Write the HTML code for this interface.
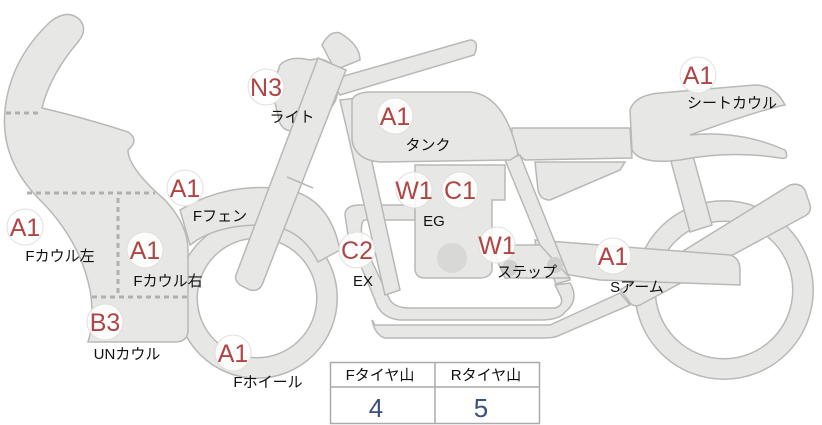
<!DOCTYPE html>
<html><head><meta charset="utf-8"><style>
html,body{margin:0;padding:0;background:#fff;}
svg{display:block;font-family:"Liberation Sans","Noto Sans CJK JP",sans-serif;}
.p{fill:#e7e7e5;stroke:#b8b8b6;stroke-width:1.5;}
.b circle{fill:#fff;fill-opacity:.85;stroke:#e2dede;stroke-width:1;}
.b text{fill:#b04545;font-size:25px;text-anchor:middle;}
.l{font-size:15px;fill:#111;text-anchor:middle;}
</style></head><body>
<svg width="822" height="425" viewBox="0 0 822 425">
<circle cx="724" cy="290" r="79" fill="none" stroke="#b8b8b6" stroke-width="22"/>
<circle cx="724" cy="290" r="79" fill="none" stroke="#e7e7e5" stroke-width="19"/>
<path class="p" d="M668,150 L690,145 L712,225 L690,232 Z"/>
<path class="p" d="M630,110 Q635,95 660,93 L755,85 Q775,85 785,105 Q760,110 690,135 Q740,130 785,150 Q790,160 780,158 Q730,150 680,160 Q640,165 632,150 Z"/>
<path class="p" d="M512,128 L630,128 L632,158 L525,160 Q510,150 512,128 Z"/>
<path class="p" d="M535,162 L625,162 L620,170 L550,200 Q540,200 538,190 Z"/>
<path class="p" d="M620,290 L790,185 Q800,182 805,190 L810,205 Q812,212 805,216 L640,305 Q632,308 628,300 Z"/>
<path class="p" d="M535,240 L600,245 L730,255 Q740,258 740,270 L740,285 L600,280 L540,270 Z"/>
<path class="p" d="M505,160 L520,155 L570,280 L556,284 Z"/>
<path class="p" d="M345,215 Q345,205 360,205 L415,205 L415,220 L365,220 Q360,220 362,240 L390,300 Q395,308 410,308 L555,308 Q565,305 560,295 L555,285 L570,283 Q580,300 565,312 Q560,320 540,320 L400,320 Q380,318 375,300 L348,235 Z"/>
<path class="p" d="M375,325 L550,325 L620,293 L630,305 L560,335 Q555,338 545,338 L385,338 Q375,335 372,320 Z"/>
<path class="p" d="M415,165 L505,165 L505,200 L492,200 L492,270 Q490,278 480,278 L425,278 Q415,278 415,268 Z"/>
<circle cx="452" cy="258" r="15" fill="#d8d8d6"/>
<path class="p" d="M490,245 L540,245 L570,278 L505,278 Z"/>
<circle cx="510" cy="268" r="8" fill="#cfcfcd"/>
<circle cx="555" cy="265" r="8" fill="#cfcfcd"/>
<path class="p" d="M340,100 L358,98 L400,290 L385,295 Z"/>
<path class="p" d="M352,100 Q355,92 372,92 L470,92 Q505,95 518,155 L510,160 L380,162 Q355,160 352,140 Z"/>
<circle cx="257" cy="298" r="70" fill="none" stroke="#b8b8b6" stroke-width="22"/>
<circle cx="257" cy="298" r="70" fill="none" stroke="#e7e7e5" stroke-width="19"/>
<path class="p" d="M180,210 Q230,180 290,190 Q330,200 340,250 L318,262 Q300,225 260,225 Q215,225 190,245 Z"/>
<path class="p" d="M330,80 L470,40 Q478,40 476,50 L474,55 L340,95 Z"/>
<path class="p" d="M280,65 Q290,55 310,60 Q330,55 338,75 Q340,100 330,108 L300,130 Q280,135 278,115 Q270,90 280,65 Z"/>
<path class="p" d="M322,45 Q330,30 340,33 Q360,45 360,60 L335,70 Z"/>
<path class="p" d="M318,58 L346,70 L262,285 Q258,292 250,290 L240,285 Q234,280 236,275 Z"/>
<line x1="287" y1="177" x2="313" y2="188" stroke="#b8b8b6" stroke-width="1.5"/>
<path class="p" d="M50,22 Q68,8 80,20 Q88,30 78,42 Q50,75 42,108 Q85,118 128,132 Q140,140 128,150 Q128,168 165,200 Q188,225 188,250 L188,330 Q188,342 175,342 L88,342 Q95,320 90,290 Q80,240 40,200 Q0,160 5,110 Q10,60 50,22 Z"/>
<g stroke="#b0b0ae" stroke-width="3" stroke-dasharray="5,4" fill="none">
<line x1="6" y1="113" x2="40" y2="113"/>
<line x1="27" y1="193" x2="155" y2="193"/>
<line x1="118" y1="198" x2="118" y2="294"/>
<line x1="92" y1="297" x2="188" y2="297"/>
</g>
<g class="b">
<circle cx="266" cy="87" r="18"/><text x="266" y="96">N3</text>
<circle cx="395" cy="116" r="18"/><text x="395" y="125">A1</text>
<circle cx="698" cy="75" r="18"/><text x="698" y="84">A1</text>
<circle cx="185" cy="188" r="18"/><text x="185" y="197">A1</text>
<circle cx="25" cy="227" r="18"/><text x="25" y="236">A1</text>
<circle cx="145" cy="250" r="18"/><text x="145" y="259">A1</text>
<circle cx="105" cy="322" r="18"/><text x="105" y="331">B3</text>
<circle cx="233" cy="353" r="18"/><text x="233" y="362">A1</text>
<circle cx="357" cy="250" r="18"/><text x="357" y="259">C2</text>
<circle cx="414" cy="190" r="18"/><text x="414" y="199">W1</text>
<circle cx="460" cy="190" r="18"/><text x="460" y="199">C1</text>
<circle cx="497" cy="245" r="18"/><text x="497" y="254">W1</text>
<circle cx="613" cy="256" r="18"/><text x="613" y="265">A1</text>
</g>
<g class="l">
<text x="292" y="122">ライト</text>
<text x="428" y="150">タンク</text>
<text x="732" y="108">シートカウル</text>
<text x="220" y="221">Fフェン</text>
<text x="60" y="261">Fカウル左</text>
<text x="168" y="286">Fカウル右</text>
<text x="127" y="359">UNカウル</text>
<text x="268" y="387">Fホイール</text>
<text x="363" y="286">EX</text>
<text x="434" y="226">EG</text>
<text x="527" y="277">ステップ</text>
<text x="637" y="292">Sアーム</text>
</g>
<rect x="330.5" y="362.5" width="209" height="61" fill="#fff" stroke="#aaa" stroke-width="1.5"/>
<line x1="330" y1="387" x2="540" y2="387" stroke="#aaa" stroke-width="1.5"/>
<line x1="435" y1="362" x2="435" y2="424" stroke="#aaa" stroke-width="1.5"/>
<text class="l" x="380" y="380">Fタイヤ山</text>
<text class="l" x="486" y="380">Rタイヤ山</text>
<text x="376" y="417" font-size="26" fill="#3a4f82" text-anchor="middle">4</text>
<text x="481" y="417" font-size="26" fill="#3a4f82" text-anchor="middle">5</text>
</svg>
</body></html>
